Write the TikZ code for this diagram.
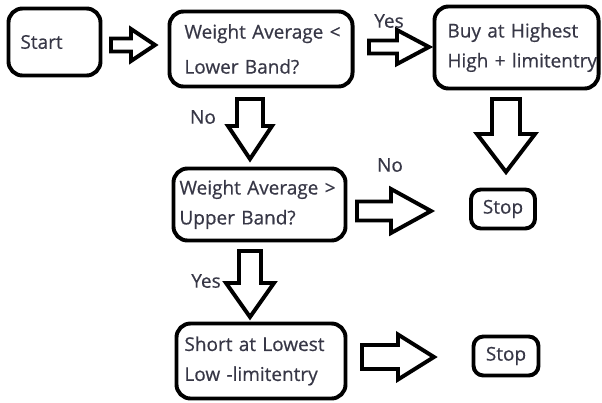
\documentclass[tikz,border=0pt]{standalone}
\usepackage{fontspec}
\setmainfont{Open Sans}[FakeBold=0.6]
\usepackage{tikz}
\usetikzlibrary{calc}
\hyphenpenalty=10000
\exhyphenpenalty=10000
\definecolor{txt}{RGB}{55,55,70}
\tikzset{
  stepbox/.style={draw,line width=2.8pt,rounded corners=10pt,align=left,inner ysep=0pt,text=txt,font=\fontsize{13.5}{21.3}\selectfont},
  stopbox/.style={draw,line width=2.8pt,rounded corners=7pt,text=txt,font=\fontsize{13.5}{16}\selectfont},
  lbl/.style={text=txt,font=\fontsize{13.5}{16}\selectfont},
  arrowline/.style={draw,line width=2.8pt,line join=miter,fill=white},
  pics/blockarrow/.style n args={4}{code={
    \draw[arrowline] (0,-#2) -- ({#1-#4},-#2) -- ({#1-#4},-#3) -- (#1,0)
      -- ({#1-#4},#3) -- ({#1-#4},#2) -- (0,#2) -- cycle;
  }}
}

\begin{document}
\begin{tikzpicture}[x=0.025cm,y=-0.025cm]
        \useasboundingbox (0,0) rectangle (602,402);

        \node[stepbox,minimum width=2.3cm,minimum height=1.675cm,text width=1.7cm,inner xsep=0.3cm] (start) at (54.5,42) {Start};
        \node[stepbox,minimum width=4.575cm,minimum height=1.875cm,text width=3.825cm,inner xsep=0.375cm,
              font=\fontsize{13.5}{24.9}\selectfont] (lower) at (261,49)
            {Weight~Average~<\\Lower~Band?};
        \node[stepbox,minimum width=4.1cm,minimum height=2.05cm,text width=3.45cm,inner xsep=0.325cm] (buy) at (516.5,47.5)
            {Buy~at~Highest\\High~+~limitentry};
        \node[stepbox,minimum width=4.3cm,minimum height=1.8cm,text width=4cm,inner xsep=0.15cm] (upper) at (259.5,204.5)
            {Weight~Average~>\\Upper~Band?};
        \node[stepbox,minimum width=4.225cm,minimum height=1.875cm,text width=3.825cm,inner xsep=0.2cm] (short) at (261,361)
            {Short~at~Lowest\\Low~-limitentry};

        \node[stopbox,minimum width=1.6cm,minimum height=0.975cm] (stop1) at (503,209) {Stop};
        \node[stopbox,minimum width=1.625cm,minimum height=0.975cm] (stop2) at (506,356) {Stop};

        \node[lbl] (yes1) at (389,21) {Yes};
        \node[lbl] (no1) at (203,117) {No};
        \node[lbl] (no2) at (390,165) {No};
        \node[lbl] (yes2) at (206,281) {Yes};

        \pic at ($(start.east)+(8.5,3)$) {blockarrow={44}{6.5}{16}{24}};
        \pic at ($(lower.east)+(14.5,-2)$) {blockarrow={60}{6.5}{17}{32}};
        \pic[rotate=-90] at ($(buy.south)+(-10.5,8.5)$) {blockarrow={73}{14}{29}{38}};
        \pic[rotate=-90] at ($(lower.south)+(-11,10.5)$) {blockarrow={60}{13}{22}{33}};
        \pic at ($(upper.east)+(9.5,6.5)$) {blockarrow={74}{9.5}{22}{40}};
        \pic[rotate=-90] at ($(upper.south)+(-9.5,8.5)$) {blockarrow={66}{11}{24}{34}};
        \pic at ($(short.east)+(14.5,-4)$) {blockarrow={72}{12}{22.5}{36}};
\end{tikzpicture}
\end{document}
